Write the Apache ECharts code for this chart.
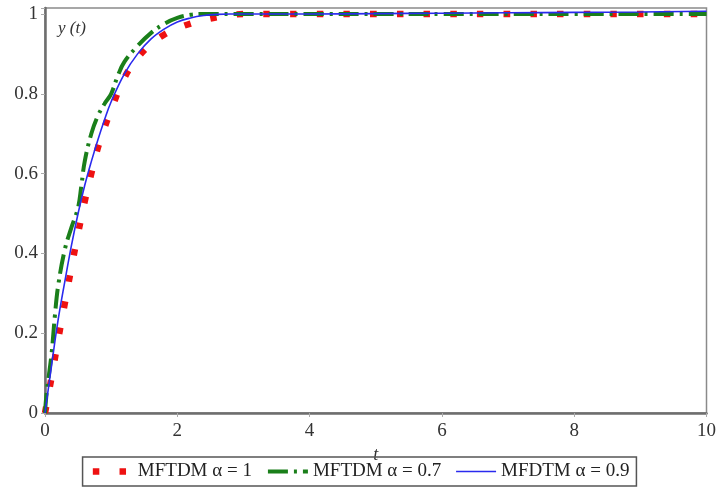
<!DOCTYPE html>
<html>
<head>
<meta charset="utf-8">
<script src="https://cdn.jsdelivr.net/npm/echarts@6/dist/echarts.min.js"></script>
<style>
  html, body { margin: 0; padding: 0; background: #ffffff; }
  #chart { width: 719px; height: 499px; }
</style>
</head>
<body>
<div id="chart"></div>
<script>
// Solution y(t) for three methods / fractional orders
const seriesNames = ['MFTDM \u03b1 = 1', 'MFTDM \u03b1 = 0.7', 'MFDTM \u03b1 = 0.9'];

// MFTDM, alpha = 1
const tRed = [0, 0.1, 0.2, 0.3, 0.4, 0.5, 0.6, 0.7, 0.8, 0.9, 1.0, 1.2, 1.4, 1.6, 1.8, 2.0, 2.2, 2.4, 2.6, 2.8, 3.0, 3.5, 4, 5, 6, 7, 8, 9, 10];
const yRed = [0, 0.09, 0.185, 0.275, 0.365, 0.45, 0.53, 0.6, 0.665, 0.715, 0.76, 0.84, 0.89, 0.924, 0.948, 0.964, 0.976, 0.985, 0.992, 0.997, 1.0, 1.0, 1.0, 1.0, 1.0, 1.0, 1.0, 1.0, 1.0];

// MFTDM, alpha = 0.7
const tGreen = [0, 0.025, 0.1, 0.15, 0.2, 0.3, 0.4, 0.5, 0.55, 0.6, 0.7, 0.8, 0.9, 1.0, 1.1, 1.2, 1.4, 1.6, 1.8, 2.0, 2.2, 2.4, 3, 4, 5, 6, 7, 8, 9, 10];
const yGreen = [0, 0.05, 0.15, 0.245, 0.32, 0.41, 0.465, 0.515, 0.57, 0.63, 0.70, 0.745, 0.775, 0.80, 0.845, 0.88, 0.92, 0.952, 0.975, 0.99, 0.998, 1.0, 1.0, 1.0, 1.0, 1.0, 1.0, 1.0, 1.0, 1.0];

// MFDTM, alpha = 0.9
const tBlue = [0, 0.1, 0.2, 0.3, 0.4, 0.5, 0.6, 0.7, 0.8, 0.9, 1.0, 1.2, 1.4, 1.6, 1.8, 2.0, 2.2, 2.4, 2.6, 2.8, 3, 4, 5, 6, 7, 8, 9, 10];
const yBlue = [0, 0.12, 0.235, 0.33, 0.42, 0.5, 0.57, 0.63, 0.685, 0.735, 0.78, 0.85, 0.9, 0.937, 0.962, 0.98, 0.99, 0.996, 0.999, 1.0, 1.0, 1.0, 1.001, 1.002, 1.003, 1.004, 1.005, 1.007];

const xTicks = [0, 2, 4, 6, 8, 10];
const yTicks = [0, 0.2, 0.4, 0.6, 0.8, 1];

const pairs = (ts, ys) => ts.map((t, i) => [t, ys[i]]);

const serif = '"Liberation Serif", "DejaVu Serif", serif';
const chart = echarts.init(document.getElementById('chart'), null, { renderer: 'canvas' });

// only label the regular ticks, not the padded top of the axis
const labelFmt = v => {
  const r = Math.round(v * 5) / 5;
  if (Math.abs(v - r) > 1e-6 || r > 1) return '';
  return String(+r.toFixed(1));
};

chart.setOption({
  animation: false,
  backgroundColor: '#ffffff',
  grid: {
    left: 45, right: 10, top: 8, bottom: 86,
    show: true, borderColor: '#8a8a8a', borderWidth: 1.5, backgroundColor: 'transparent'
  },
  xAxis: {
    type: 'value', min: xTicks[0], max: xTicks[xTicks.length - 1], interval: 2,
    name: 't', nameLocation: 'middle', nameGap: 27,
    nameTextStyle: { fontFamily: serif, fontStyle: 'italic', fontSize: 18, color: '#333' },
    axisLine: { lineStyle: { color: '#6e6e6e', width: 2.5 } },
    axisTick: { show: true, inside: false, length: 4, lineStyle: { color: '#aaaaaa', width: 1 } },
    axisLabel: { fontFamily: serif, fontSize: 19, color: '#333', margin: 9 },
    splitLine: { show: false }
  },
  yAxis: {
    type: 'value', min: yTicks[0], max: 1.015, interval: 0.2,
    axisLine: { show: true, lineStyle: { color: '#6e6e6e', width: 2.5 } },
    axisTick: { show: true, inside: false, length: 4, lineStyle: { color: '#aaaaaa', width: 1 } },
    axisLabel: { fontFamily: serif, fontSize: 19, color: '#333', margin: 7, formatter: labelFmt },
    splitLine: { show: false }
  },
  legend: {
    data: seriesNames,
    left: 'center', top: 457,
    borderColor: '#555555', borderWidth: 1.5, borderRadius: 0,
    padding: [5, 7, 5, 7],
    itemGap: 14, itemWidth: 40, itemHeight: 10,
    itemStyle: { opacity: 0 },
    lineStyle: { width: 'inherit', type: 'inherit' },
    textStyle: { fontFamily: serif, fontSize: 19, color: '#222' }
  },
  graphic: [{
    type: 'text', left: 58, top: 20,
    style: { text: 'y (t)', fontFamily: serif, fontStyle: 'italic', fontSize: 17, fill: '#333' }
  }],
  series: [
    {
      name: seriesNames[0], type: 'line', data: pairs(tRed, yRed),
      symbol: 'none', smooth: 0.4,
      lineStyle: { color: '#ee1111', width: 6.5, type: [6.5, 20.2], cap: 'butt' },
      itemStyle: { color: '#ee1111' }
    },
    {
      name: seriesNames[1], type: 'line', data: pairs(tGreen, yGreen),
      symbol: 'none', smooth: 0.4,
      lineStyle: { color: '#1a7f1a', width: 4, type: [20, 6, 3, 6], cap: 'butt' },
      itemStyle: { color: '#1a7f1a' }
    },
    {
      name: seriesNames[2], type: 'line', data: pairs(tBlue, yBlue),
      symbol: 'none', smooth: 0.4,
      lineStyle: { color: '#2a2aee', width: 1.6, type: 'solid' },
      itemStyle: { color: '#2a2aee' }
    }
  ]
});
</script>
</body>
</html>
